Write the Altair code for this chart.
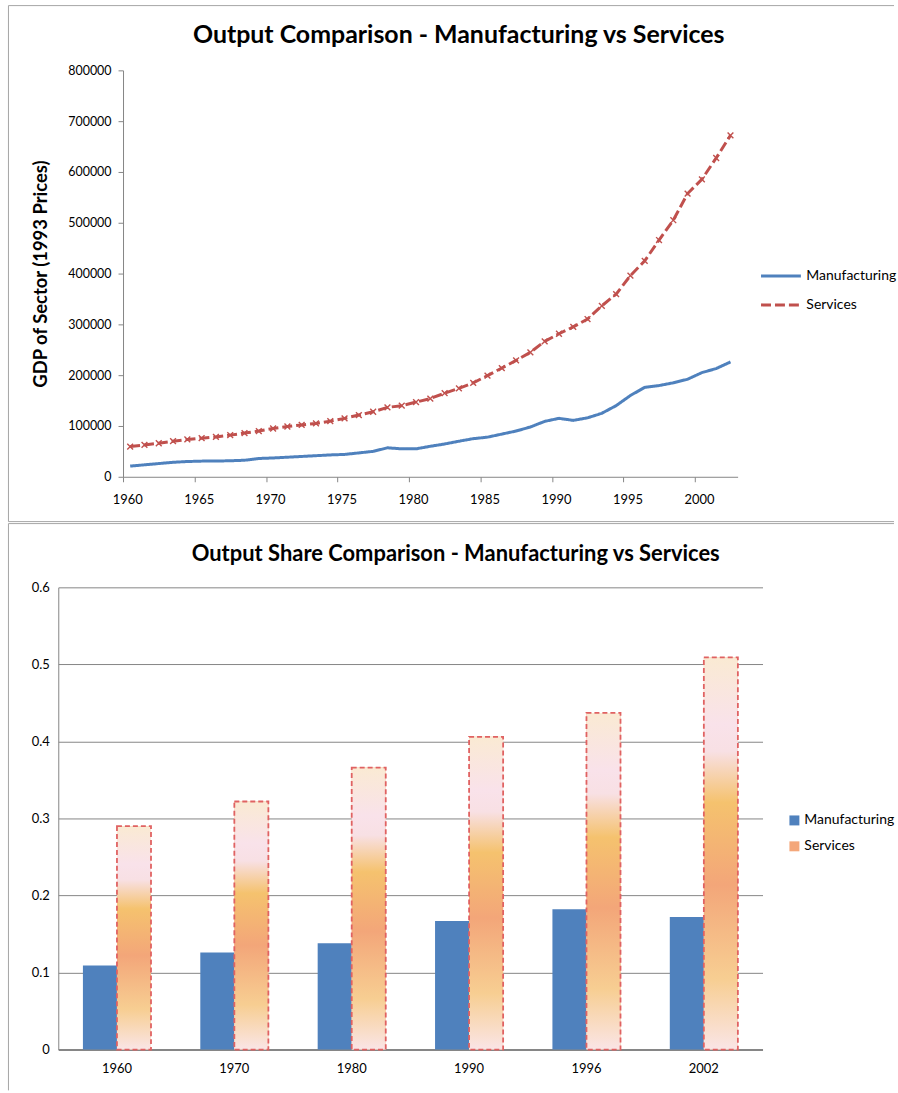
import altair as alt
import pandas as pd

# ---- GDP by sector, 1993 prices ----
years = list(range(1960, 2003))
manufacturing = [
    21000, 23500, 26000, 28500, 30000, 30800, 31000, 31500, 32500, 36000,
    37000, 38500, 40000, 41500, 43000, 44000, 47000, 50000, 57000, 55000,
    55000, 60000, 64500, 70000, 75000, 78000, 84000, 90000, 98000, 109000,
    115000, 111000, 116000, 125000, 140000, 160000, 176000, 179500, 185000, 192000,
    205000, 213000, 226000,
]
services = [
    59500, 62700, 66000, 70000, 73500, 76000, 78500, 82000, 86000, 90000,
    95000, 99000, 102000, 105000, 109500, 115000, 121500, 128000, 136500, 140000,
    147000, 154000, 164500, 174000, 185000, 199000, 214000, 229000, 245000, 266500,
    281500, 295000, 310500, 336500, 359500, 396000, 425000, 466000, 505000, 557500,
    585500, 627500, 672000,
]

# ---- output shares ----
share_years = ["1960", "1970", "1980", "1990", "1996", "2002"]
share_manufacturing = [0.109, 0.126, 0.138, 0.167, 0.182, 0.172]
share_services = [0.290, 0.322, 0.366, 0.406, 0.437, 0.509]

series_names = ["Manufacturing", "Services"]
year_ticks = list(range(1960, 2001, 5))
gdp_ticks = list(range(0, 800001, 100000))
share_ticks = [0, 0.1, 0.2, 0.3, 0.4, 0.5, 0.6]

FONT = "Lato"
AXIS_GRAY = "#868686"
FRAME_GRAY = "#A6A6A6"
BLUE = "#4F81BD"
RED = "#C0504D"
SALMON = "#F4A77A"

gdp = pd.DataFrame({
    "year": years * 2,
    "series": [series_names[0]] * len(years) + [series_names[1]] * len(years),
    "value": manufacturing + services,
})
share = pd.DataFrame({
    "year": share_years * 2,
    "series": [series_names[0]] * len(share_years) + [series_names[1]] * len(share_years),
    "share": share_manufacturing + share_services,
})
one = pd.DataFrame({"k": [0]})


def frame_line(x, y, x2=None, y2=None):
    enc = {"x": alt.value(x), "y": alt.value(y)}
    if x2 is not None:
        enc["x2"] = alt.value(x2)
    if y2 is not None:
        enc["y2"] = alt.value(y2)
    return alt.Chart(one).mark_rule(color=FRAME_GRAY, strokeWidth=1).encode(**enc)


def heading(text, x, y, size):
    return alt.Chart(one).mark_text(
        text=text, font=FONT, fontSize=size, fontWeight="bold", color="#000000",
        align="center", baseline="middle",
    ).encode(x=alt.value(x), y=alt.value(y))


# Both panels share one left origin; the line panel's data area starts
# LINE_INSET px further right, with its y axis moved in to match.
LINE_INSET = 65

# ================= line chart =================
TOP_W, TOP_H = 617 + LINE_INSET, 408

x_top = alt.X(
    "year:Q",
    scale=alt.Scale(domain=[1959.5, 2002.5], range=[LINE_INSET, TOP_W], nice=False, zero=False),
    axis=alt.Axis(
        values=year_ticks, format="d", title=None, grid=False,
        tickOffset=-7, labelOffset=4, tickSize=5, tickColor=AXIS_GRAY,
        domainColor=AXIS_GRAY, labelPadding=12, labelFont=FONT, labelFontSize=13,
        labelColor="#000000",
    ),
)
y_top = alt.Y(
    "value:Q",
    scale=alt.Scale(domain=[0, 800000], nice=False),
    axis=alt.Axis(
        values=gdp_ticks, format="d", grid=False, tickSize=5, tickColor=AXIS_GRAY,
        domainColor=AXIS_GRAY, labelPadding=7, labelFont=FONT, labelFontSize=12.5,
        labelColor="#000000", offset=-LINE_INSET,
        title="GDP of Sector (1993 Prices)", titleFont=FONT, titleFontSize=18.5,
        titleFontWeight="bold", titleColor="#000000", titleAngle=270,
        titleX=-83, titleY=TOP_H / 2, titleAlign="center", titleBaseline="middle",
    ),
)
legend_top = alt.Legend(
    title=None, orient="none", legendX=704, legendY=185, symbolType="stroke",
    symbolSize=1600, symbolStrokeWidth=3, labelFont=FONT, labelFontSize=14,
    labelColor="#000000", rowPadding=-8, labelOffset=4,
)

lines = alt.Chart(gdp).mark_line(strokeWidth=3).encode(
    x=x_top,
    y=y_top,
    color=alt.Color("series:N", scale=alt.Scale(domain=series_names, range=[BLUE, RED]),
                    legend=legend_top),
    strokeDash=alt.StrokeDash("series:N",
                              scale=alt.Scale(domain=series_names, range=[[1, 0], [10, 4]]),
                              legend=legend_top),
)
markers = alt.Chart(gdp).transform_filter(
    "datum.series == 'Services'"
).mark_point(
    shape="M-1,-1L1,1M-1,1L1,-1", filled=False, strokeWidth=1.4, size=34,
    color=RED, opacity=1,
).encode(x=x_top, y=y_top)

top = alt.layer(
    lines,
    markers,
    frame_line(-50, -65, y2=453),
    frame_line(-50, -65, x2=839),
    frame_line(-50, 453, x2=839),
    heading("Output Comparison - Manufacturing  vs Services", 402, -35, 25),
).properties(width=TOP_W, height=TOP_H)

# ================= bar chart =================
BOT_W, BOT_H = 707, 464

x_bot = alt.X(
    "year:N",
    scale=alt.Scale(paddingInner=0.42, paddingOuter=0.21),
    axis=alt.Axis(
        title=None, labelAngle=0, ticks=False, domainColor=AXIS_GRAY, domainWidth=2,
        labelPadding=13, labelFont=FONT, labelFontSize=13, labelColor="#000000",
    ),
)
offset_bot = alt.XOffset(
    "series:N", scale=alt.Scale(domain=series_names, paddingInner=0, paddingOuter=0)
)
y_bot = alt.Y(
    "share:Q",
    scale=alt.Scale(domain=[0, 0.6], nice=False),
    axis=alt.Axis(
        values=share_ticks, format="~g", title=None, grid=True, gridColor=AXIS_GRAY,
        ticks=False, domainColor=AXIS_GRAY, labelPadding=9, labelFont=FONT,
        labelFontSize=13, labelColor="#000000",
    ),
)
legend_bot = alt.Legend(
    title=None, orient="none", legendX=732, legendY=227, symbolType="square",
    symbolSize=100, labelFont=FONT, labelFontSize=14, labelColor="#000000",
    rowPadding=12, labelOffset=3, symbolStrokeWidth=0,
)

bars = alt.Chart(share).mark_bar().encode(
    x=x_bot,
    xOffset=offset_bot,
    y=y_bot,
    color=alt.Color("series:N", scale=alt.Scale(domain=series_names, range=[BLUE, SALMON]),
                    legend=legend_bot),
)

services_fill = {
    "gradient": "linear", "x1": 0, "x2": 0, "y1": 0, "y2": 1,
    "stops": [
        {"offset": 0.0, "color": "#FAEAD3"},
        {"offset": 0.17, "color": "#F9E2EA"},
        {"offset": 0.24, "color": "#F8E0E4"},
        {"offset": 0.37, "color": "#F5C26E"},
        {"offset": 0.58, "color": "#F3A679"},
        {"offset": 0.82, "color": "#F7CE92"},
        {"offset": 1.0, "color": "#FAE5E6"},
    ],
}
services_bars = alt.Chart(share).transform_filter(
    "datum.series == 'Services'"
).mark_bar(
    fill=services_fill, stroke="#E06262", strokeDash=[5, 3], strokeWidth=1.8,
).encode(x=x_bot, xOffset=offset_bot, y=y_bot)

bottom = alt.layer(
    bars,
    services_bars,
    frame_line(-50, -64, y2=505),
    frame_line(-50, -64, x2=839),
    heading("Output Share Comparison - Manufacturing vs Services", 399, -33, 22),
).properties(width=BOT_W, height=BOT_H)

chart = alt.vconcat(top, bottom, spacing=0).resolve_scale(
    color="independent", strokeDash="independent"
).resolve_legend(
    color="independent", strokeDash="independent"
).properties(
    padding={"left": 7.5, "top": 2.5, "right": 0, "bottom": 0},
    background="#FFFFFF",
).configure_view(stroke="transparent")

chart.save("out.html", embed_options={"renderer": "svg", "actions": False})
